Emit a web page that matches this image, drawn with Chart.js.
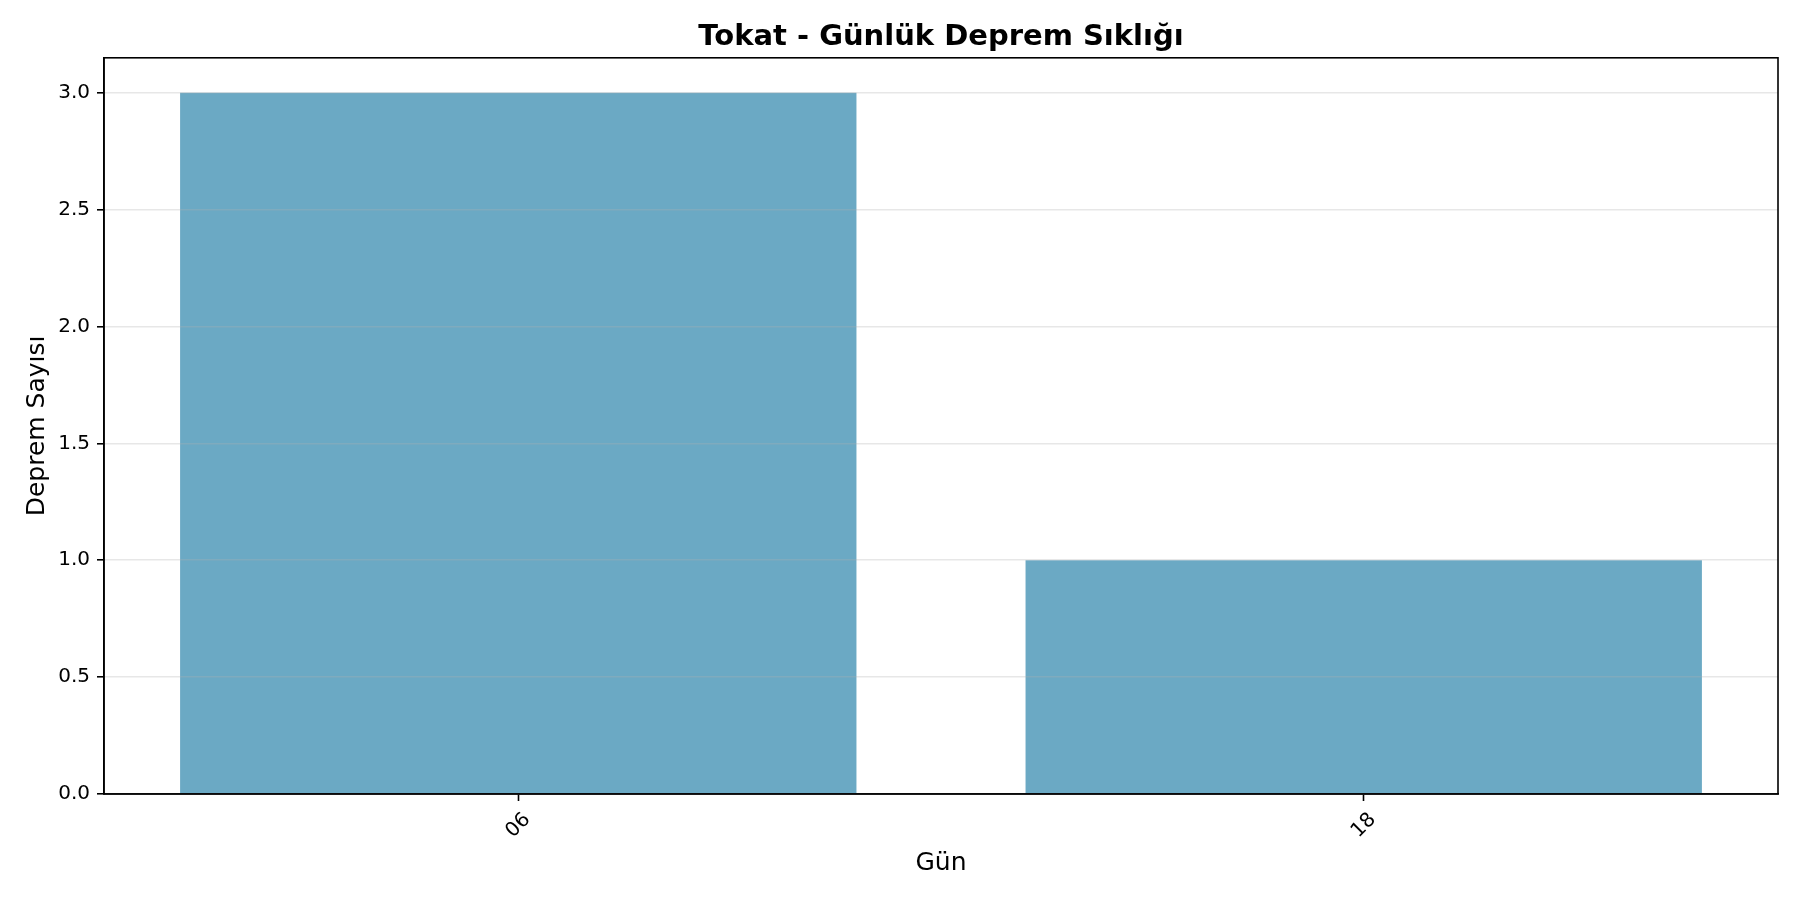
<!DOCTYPE html>
<html>
<head>
<meta charset="utf-8">
<script src="https://cdn.jsdelivr.net/npm/chart.js@4.4.1/dist/chart.umd.min.js"></script>
<style>
html,body{margin:0;padding:0;background:#fff;}
</style>
</head>
<body>
<canvas id="depremChart" width="1800" height="900"></canvas>
<script>
// veriler
const gunler = ["06", "18"];
const depremSayilari = [3, 1];
const yTickDegerleri = [0, 0.5, 1.0, 1.5, 2.0, 2.5, 3.0];
const yMax = 3.15;
const xMin = -0.49;
const xMax = 1.49;

const FONT = "'DejaVu Sans', sans-serif";

// eksen cercevesi (ust ve sag cizgiler dahil)
const cercevePlugin = {
    id: "cerceve",
    afterDraw(chart){
        const a = chart.chartArea;
        const ctx = chart.ctx;
        ctx.save();
        ctx.strokeStyle = "#000";
        ctx.lineWidth = 1.6;
        ctx.strokeRect(a.left, a.top, a.right - a.left, a.bottom - a.top);
        ctx.restore();
    }
};

const chart = new Chart(
document.getElementById("depremChart"),
{
    type:"bar",
    data:{
        datasets:[{
            label:"Deprem Sayısı",
            data:depremSayilari.map((v, i) => ({x:i, y:v})),
            backgroundColor:"rgb(107,169,196)",
            borderWidth:0,
            barPercentage:0.8,
            categoryPercentage:1.0
        }]
    },
    options:{
        responsive:false,
        devicePixelRatio:1,
        animation:false,
        layout:{
            padding:{left:0, right:22, top:0, bottom:0}
        },
        plugins:{
            legend:{display:false},
            tooltip:{enabled:false},
            title:{
                display:true,
                text:"Tokat - Günlük Deprem Sıklığı",
                fullSize:false,
                color:"#000",
                font:{family:FONT, size:29, weight:"bold", lineHeight:1.2},
                padding:{top:20, bottom:3}
            }
        },
        scales:{
            x:{
                type:"linear",
                min:xMin,
                max:xMax,
                offset:false,
                afterFit(s){ s.height = 106; },
                afterBuildTicks(s){
                    s.ticks = gunler.map((g, i) => ({value:i}));
                },
                grid:{
                    display:true,
                    offset:false,
                    drawOnChartArea:false,
                    tickLength:7,
                    tickWidth:1.6,
                    tickColor:"#000"
                },
                border:{display:true, color:"#000", width:1.6, z:1},
                ticks:{
                    color:"#000",
                    font:{family:FONT, size:20},
                    minRotation:45,
                    maxRotation:45,
                    autoSkip:false,
                    padding:7,
                    labelOffset:9,
                    callback:v => gunler[v]
                },
                title:{
                    display:true,
                    text:"Gün",
                    color:"#000",
                    font:{family:FONT, size:25, lineHeight:1.2},
                    padding:{top:0, bottom:22}
                }
            },
            y:{
                min:0,
                max:yMax,
                afterFit(s){ s.width = 104; },
                afterBuildTicks(s){
                    s.ticks = yTickDegerleri.map(v => ({value:v}));
                },
                grid:{
                    display:true,
                    color:"rgba(176,176,176,0.3)",
                    lineWidth:1.6,
                    tickLength:7,
                    tickWidth:1.6,
                    tickColor:"#000",
                    z:1
                },
                border:{display:true, color:"#000", width:1.6, z:1},
                ticks:{
                    color:"#000",
                    font:{family:FONT, size:20},
                    padding:7,
                    callback:v => Number(v).toFixed(1)
                },
                title:{
                    display:true,
                    text:"Deprem Sayısı",
                    color:"#000",
                    font:{family:FONT, size:25, lineHeight:1.2},
                    padding:{top:22, bottom:0}
                }
            }
        }
    },
    plugins:[cercevePlugin]
});
</script>
</body>
</html>
